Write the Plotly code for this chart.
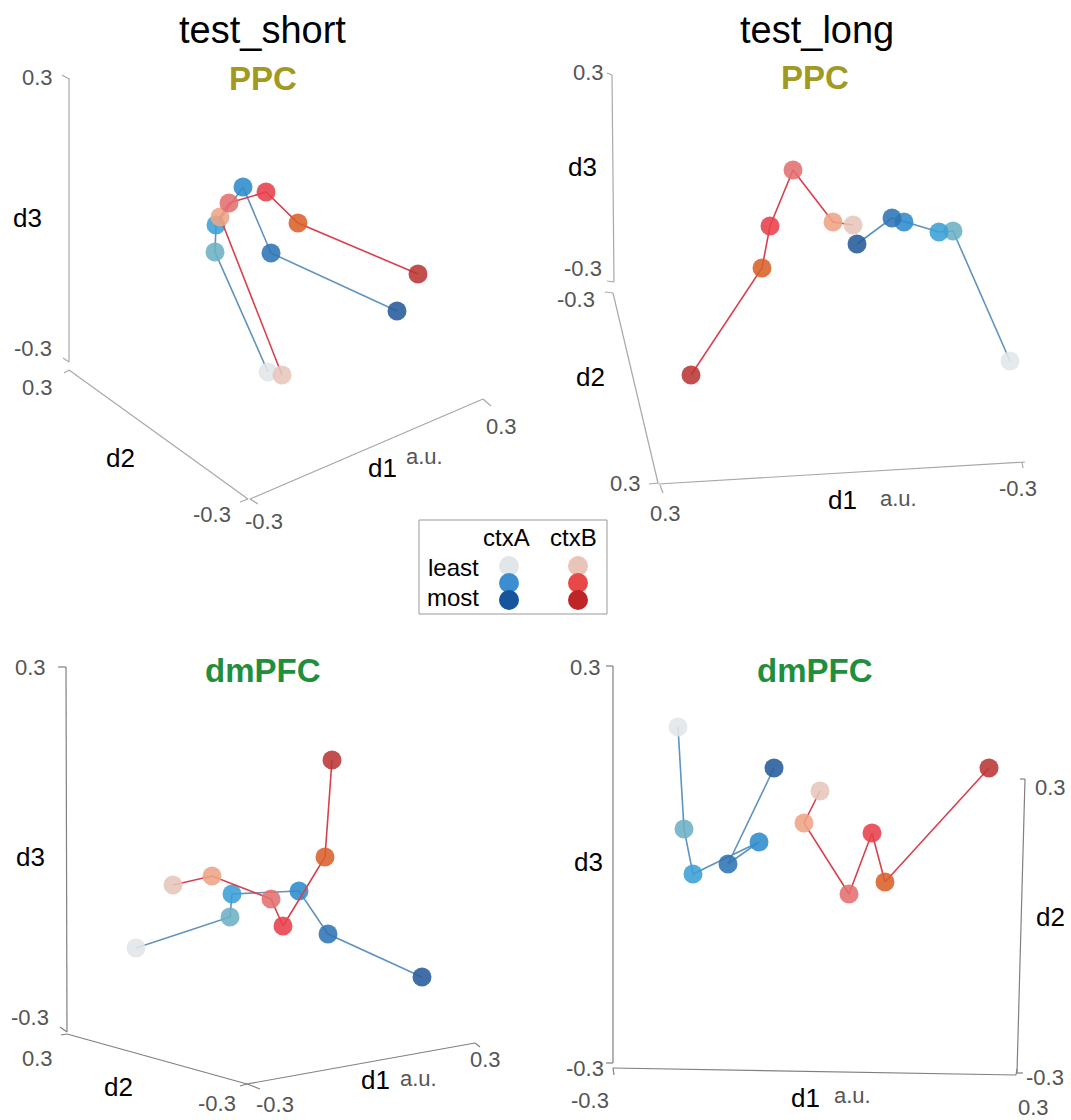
import plotly.graph_objects as go

# ---------------- data (projected 3-D trajectories, least -> most) ----------------
ppc_short_A_x = [268, 215, 216, 243, 271, 397]
ppc_short_A_y = [372, 252, 225, 187, 253, 311]
ppc_short_B_x = [282, 220, 229, 266, 298, 418]
ppc_short_B_y = [375, 217, 203, 192, 223, 274]

ppc_long_A_x = [1010, 953, 939, 904, 892, 857]
ppc_long_A_y = [361, 231, 232, 222, 218, 244]
ppc_long_B_x = [853, 833, 793, 770, 762, 691]
ppc_long_B_y = [225, 222, 170, 226, 268, 375]

dmpfc_short_A_x = [136, 230, 232, 299, 328, 422]
dmpfc_short_A_y = [948, 917, 894, 891, 934, 977]
dmpfc_short_B_x = [173, 212, 271, 283, 325, 332]
dmpfc_short_B_y = [885, 876, 899, 926, 857, 760]

dmpfc_long_A_x = [678, 684, 693, 759, 728, 774]
dmpfc_long_A_y = [727, 829, 874, 842, 864, 768]
dmpfc_long_B_x = [820, 804, 849, 872, 885, 989]
dmpfc_long_B_y = [791, 823, 894, 833, 882, 768]

column_titles = ["test_short", "test_long"]
region_titles = ["PPC", "dmPFC"]
tick_low, tick_high = "-0.3", "0.3"
legend_rows = ["least", "most"]
legend_cols = ["ctxA", "ctxB"]

# ---------------- styles ----------------
W, H = 1071, 1120
A_COLORS = ["#e1e6e9", "#6cb0c4", "#3b9fd6", "#2d8bcc", "#2e74b5", "#255b9c"]
B_COLORS = ["#e6c6ba", "#eea485", "#e46e6e", "#e8404a", "#d9602a", "#b93634"]
A_LINE = "#5f93c0"
B_LINE = "#d8404e"
AX_TOP = "#a8a8a8"
AX_BOT = "#808080"
TICKC = "#555555"
FONT = "Liberation Sans, Arial, sans-serif"

fig = go.Figure()

def traj(xs, ys, colors, linec):
    fig.add_trace(go.Scatter(x=xs, y=ys, mode="lines",
                             line=dict(color=linec, width=1.6),
                             hoverinfo="skip", showlegend=False))
    fig.add_trace(go.Scatter(x=xs, y=ys, mode="markers",
                             marker=dict(size=19, color=colors, opacity=0.88,
                                         line=dict(width=0)),
                             showlegend=False))

def seg(p, q, color=AX_TOP, w=1.2):
    fig.add_trace(go.Scatter(x=[p[0], q[0]], y=[p[1], q[1]], mode="lines",
                             line=dict(color=color, width=w),
                             hoverinfo="skip", showlegend=False))

def txt(x, y, s, size, color="black", bold=False):
    fig.add_annotation(x=x, y=y, text=("<b>%s</b>" % s) if bold else s,
                       showarrow=False, xanchor="center", yanchor="middle",
                       font=dict(family=FONT, size=size, color=color))

# ---------------- axes of each panel ----------------
# top-left
seg((69, 78), (69, 362)); seg((62, 75), (69, 79)); seg((63, 358), (69, 362))
seg((69, 370), (248, 499)); seg((64, 373), (69, 370)); seg((240, 502), (248, 499))
seg((250, 499), (483, 399)); seg((250, 499), (258, 504)); seg((483, 399), (491, 406))
# top-right
seg((612, 75), (614, 282)); seg((607, 73), (612, 75)); seg((607, 281), (614, 282))
seg((613, 293), (658, 483)); seg((605, 292), (613, 293)); seg((649, 484), (658, 483))
seg((658, 484), (1025, 462)); seg((660, 485), (663, 493)); seg((1022, 462), (1023, 468))
# bottom-left
seg((66, 667), (67, 1032), AX_BOT); seg((58, 667), (66, 667), AX_BOT); seg((60, 1027), (67, 1032), AX_BOT)
seg((67, 1034), (247, 1084), AX_BOT); seg((61, 1035), (67, 1034), AX_BOT); seg((240, 1086), (247, 1084), AX_BOT)
seg((247, 1084), (475, 1043), AX_BOT); seg((247, 1084), (260, 1089), AX_BOT); seg((475, 1043), (480, 1047), AX_BOT)
# bottom-right
seg((613, 666), (613, 1063), AX_BOT); seg((606, 666), (613, 666), AX_BOT); seg((606, 1063), (613, 1063), AX_BOT)
seg((613, 1068), (1016, 1075), AX_BOT); seg((613, 1068), (614, 1075), AX_BOT); seg((1016, 1075), (1017, 1069), AX_BOT)
seg((1025, 779), (1017, 1073), AX_BOT); seg((1020, 779), (1025, 779), AX_BOT); seg((1017, 1073), (1023, 1073), AX_BOT)

# ---------------- trajectories ----------------
traj(ppc_short_A_x, ppc_short_A_y, A_COLORS, A_LINE)
traj(ppc_short_B_x, ppc_short_B_y, B_COLORS, B_LINE)
traj(ppc_long_A_x, ppc_long_A_y, A_COLORS, A_LINE)
traj(ppc_long_B_x, ppc_long_B_y, B_COLORS, B_LINE)
traj(dmpfc_short_A_x, dmpfc_short_A_y, A_COLORS, A_LINE)
traj(dmpfc_short_B_x, dmpfc_short_B_y, B_COLORS, B_LINE)
traj(dmpfc_long_A_x, dmpfc_long_A_y, A_COLORS, A_LINE)
traj(dmpfc_long_B_x, dmpfc_long_B_y, B_COLORS, B_LINE)

# ---------------- titles ----------------
txt(262, 30, column_titles[0], 38)
txt(817, 30, column_titles[1], 38)
txt(263, 78, region_titles[0], 33, "#a09a22", True)
txt(815, 77, region_titles[0], 33, "#a09a22", True)
txt(263, 670, region_titles[1], 33, "#1f8f3e", True)
txt(815, 670, region_titles[1], 33, "#1f8f3e", True)

# ---------------- tick labels / axis labels ----------------
TS, LS, US = 22, 26, 22
# top-left
txt(37, 77, tick_high, TS, TICKC); txt(33, 348, tick_low, TS, TICKC)
txt(37, 387, tick_high, TS, TICKC); txt(212, 514, tick_low, TS, TICKC)
txt(264, 521, tick_low, TS, TICKC); txt(501, 426, tick_high, TS, TICKC)
txt(27, 218, "d3", LS); txt(120, 458, "d2", LS); txt(382, 468, "d1", LS)
txt(424, 456, "a.u.", US, TICKC)
# top-right
txt(588, 72, tick_high, TS, TICKC); txt(583, 268, tick_low, TS, TICKC)
txt(576, 299, tick_low, TS, TICKC); txt(625, 483, tick_high, TS, TICKC)
txt(665, 513, tick_high, TS, TICKC); txt(1018, 488, tick_low, TS, TICKC)
txt(582, 167, "d3", LS); txt(590, 377, "d2", LS); txt(842, 500, "d1", LS)
txt(898, 498, "a.u.", US, TICKC)
# bottom-left
txt(30, 667, tick_high, TS, TICKC); txt(30, 1017, tick_low, TS, TICKC)
txt(37, 1058, tick_high, TS, TICKC); txt(217, 1103, tick_low, TS, TICKC)
txt(275, 1104, tick_low, TS, TICKC); txt(485, 1059, tick_high, TS, TICKC)
txt(30, 857, "d3", LS); txt(118, 1087, "d2", LS); txt(375, 1080, "d1", LS)
txt(418, 1078, "a.u.", US, TICKC)
# bottom-right
txt(585, 667, tick_high, TS, TICKC); txt(585, 1068, tick_low, TS, TICKC)
txt(590, 1100, tick_low, TS, TICKC); txt(1033, 1107, tick_high, TS, TICKC)
txt(1050, 787, tick_high, TS, TICKC); txt(1045, 1077, tick_low, TS, TICKC)
txt(588, 862, "d3", LS); txt(1050, 917, "d2", LS); txt(805, 1098, "d1", LS)
txt(852, 1095, "a.u.", US, TICKC)

# ---------------- legend ----------------
fig.add_shape(type="rect", x0=419, y0=520, x1=607, y1=614, xref="x", yref="y",
              line=dict(color="#999999", width=1), fillcolor="white", layer="below")
LEG_A = ["#e1e6e9", "#3b8fd1", "#15559c"]
LEG_B = ["#e8c5b8", "#e84848", "#be2527"]
fig.add_trace(go.Scatter(x=[509, 509, 509], y=[566, 583, 600], mode="markers",
                         marker=dict(size=20, color=LEG_A), showlegend=False))
fig.add_trace(go.Scatter(x=[578, 578, 578], y=[566, 583, 600], mode="markers",
                         marker=dict(size=20, color=LEG_B), showlegend=False))
txt(506, 537, legend_cols[0], 24); txt(573, 537, legend_cols[1], 24)
txt(453, 567, legend_rows[0], 24); txt(453, 597, legend_rows[1], 24)

fig.update_layout(
    width=W, height=H, margin=dict(l=0, r=0, t=0, b=0),
    paper_bgcolor="white", plot_bgcolor="white", showlegend=False,
    xaxis=dict(range=[0, W], visible=False, fixedrange=True),
    yaxis=dict(range=[H, 0], visible=False, fixedrange=True),
)
fig.write_html("out.html")
